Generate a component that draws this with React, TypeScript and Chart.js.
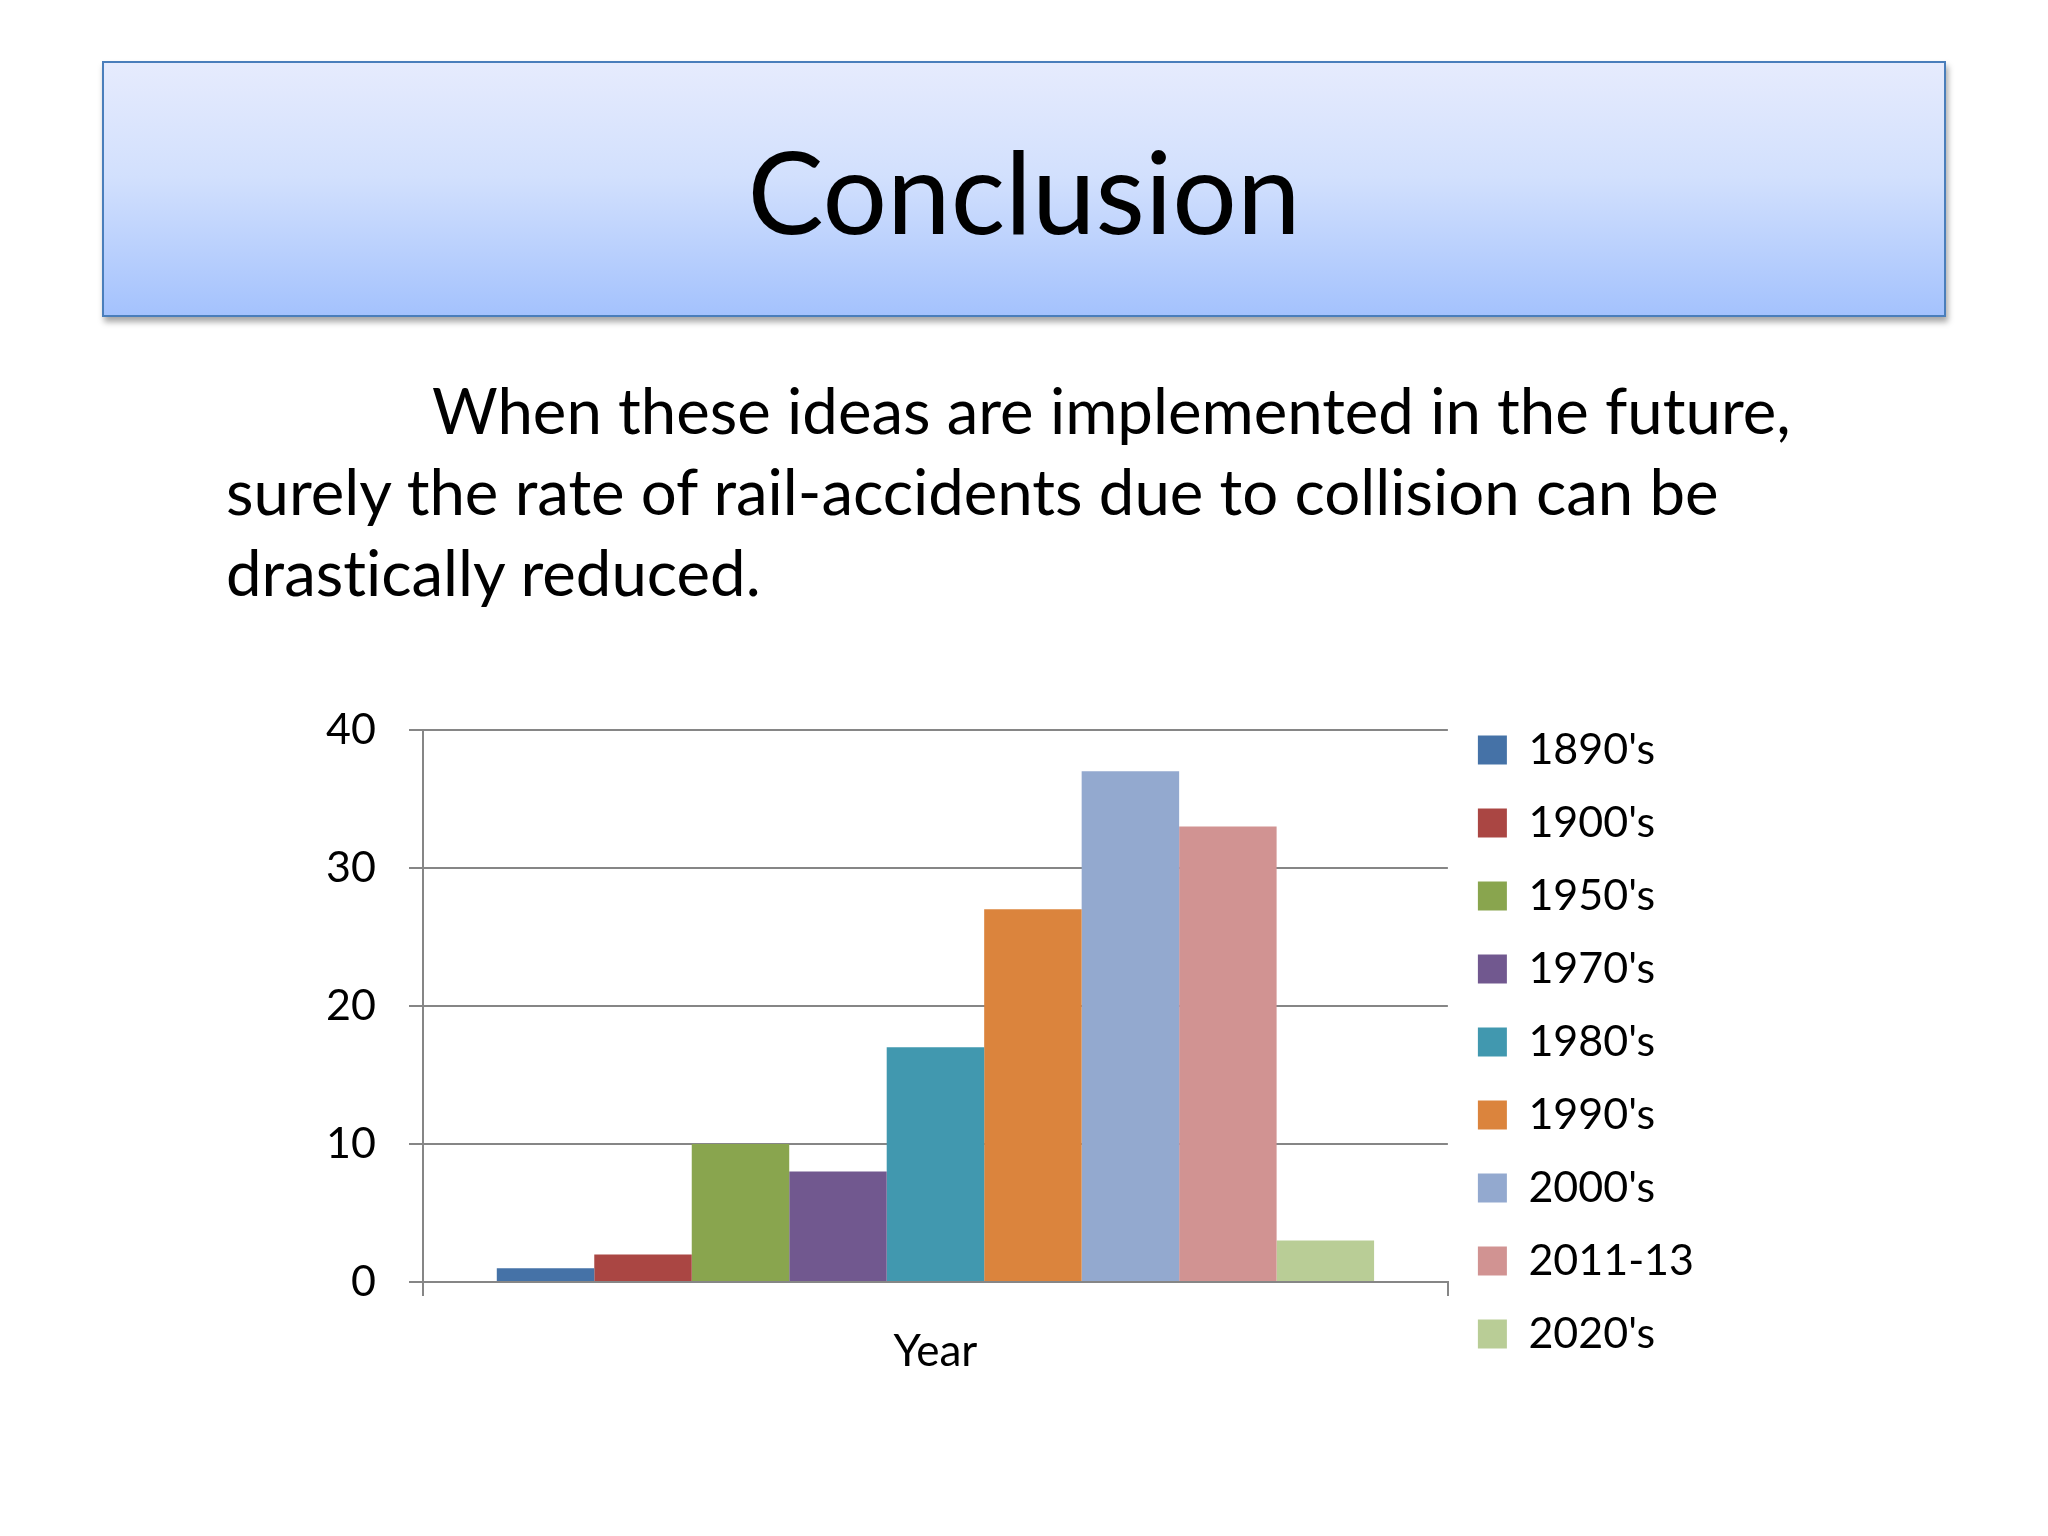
import React, { useEffect, useRef } from 'react';
import { Chart, registerables } from 'chart.js';

Chart.register(...registerables);

const categories: string[] = ['Year'];
const seriesLabels: string[] = ["1890's", "1900's", "1950's", "1970's", "1980's", "1990's", "2000's", "2011-13", "2020's"];
const seriesValues: number[] = [1, 2, 10, 8, 17, 27, 37, 33, 3];
const seriesColors: string[] = ['#4572A7', '#AA4643', '#89A54E', '#71588F', '#4198AF', '#DB843D', '#93A9CF', '#D19392', '#B9CD96'];
const yTickValues: number[] = [0, 10, 20, 30, 40];

const titleText = 'Conclusion';
const bodyLines: string[] = [
  'When these ideas are implemented in the future,',
  'surely the rate of rail-accidents due to collision can be',
  'drastically reduced.',
];

const FONT = 'Lato, "Noto Sans", sans-serif';
const GRID = '#868686';

const CANVAS_TOP = 671;
const CANVAS_BOTTOM = 1430;

function BarChart() {
  const ref = useRef<HTMLCanvasElement | null>(null);
  useEffect(() => {
    if (!ref.current) return;
    const chart = new Chart(ref.current, {
      type: 'bar',
      data: {
        labels: categories,
        datasets: seriesLabels.map((label, i) => ({
          label,
          data: [seriesValues[i]],
          backgroundColor: seriesColors[i],
          borderWidth: 0,
          categoryPercentage: 0.856,
          barPercentage: 1,
        })),
      },
      options: {
        responsive: false,
        maintainAspectRatio: false,
        animation: false,
        devicePixelRatio: 1,
        layout: { padding: { top: 0, left: 0, bottom: 0, right: 196 } },
        plugins: {
          tooltip: { enabled: false },
          title: { display: false },
          legend: {
            display: true,
            position: 'right',
            align: 'start',
            title: {
              display: true,
              text: '',
              font: { size: 1, lineHeight: 1 },
              padding: { top: 26.5, bottom: 0 },
            },
            labels: {
              color: '#000',
              font: { family: FONT, size: 43 },
              boxWidth: 29,
              boxHeight: 29,
              padding: 30,
            },
          },
        },
        scales: {
          x: {
            offset: true,
            afterFit: (s: any) => { s.height = CANVAS_BOTTOM - 1282; },
            grid: {
              display: true,
              drawOnChartArea: false,
              drawTicks: true,
              tickLength: 14,
              color: GRID,
              lineWidth: 2,
              offset: true,
            },
            border: { display: true, color: GRID, width: 2 },
            ticks: {
              color: '#000',
              font: { family: FONT, size: 44 },
              padding: 29,
            },
          },
          y: {
            min: 0,
            max: 40,
            afterFit: (s: any) => { s.width = 123; },
            afterBuildTicks: (s: any) => { s.ticks = yTickValues.map((v) => ({ value: v })); },
            grid: {
              display: true,
              drawOnChartArea: true,
              drawTicks: true,
              tickLength: 14,
              color: GRID,
              lineWidth: 2,
            },
            border: { display: true, color: GRID, width: 2 },
            ticks: {
              stepSize: 10,
              color: '#000',
              font: { family: FONT, size: 43 },
              padding: 33,
            },
          },
        },
      },
    });
    return () => chart.destroy();
  }, []);
  const h = CANVAS_BOTTOM - CANVAS_TOP;
  return (
    <canvas
      ref={ref}
      width={1600}
      height={h}
      style={{ position: 'absolute', left: 300, top: CANVAS_TOP, width: 1600, height: h }}
    />
  );
}

export default function App() {
  const titleSize = 114;
  const bodySize = 63.5;
  const bodyBaselines = [435, 516, 597];
  const bodyLefts = [432, 226, 226];
  return (
    <div style={{ position: 'absolute', left: 0, top: 0, width: 2048, height: 1536, background: '#fff', overflow: 'hidden' }}>
      <div
        style={{
          position: 'absolute', left: 102, top: 61, width: 1844, height: 256, boxSizing: 'border-box',
          border: '2px solid #4a7ebb',
          background: 'linear-gradient(to bottom, #e6ebfd 0%, #d2e0fd 45%, #a4c2fd 100%)',
          boxShadow: '2px 5px 6px rgba(0,0,0,0.35)',
        }}
      />
      <div
        style={{
          position: 'absolute', left: 102, width: 1844, top: 235 - 0.987 * titleSize, textAlign: 'center',
          fontFamily: FONT, fontSize: titleSize, lineHeight: 1.2, color: '#000', whiteSpace: 'nowrap',
          fontVariantLigatures: 'none',
        }}
      >
        {titleText}
      </div>
      {bodyLines.map((line, i) => (
        <div
          key={i}
          style={{
            position: 'absolute', left: bodyLefts[i], top: bodyBaselines[i] - 0.987 * bodySize,
            fontFamily: FONT, fontSize: bodySize, lineHeight: 1.2, color: '#000', whiteSpace: 'nowrap',
            fontVariantLigatures: 'none', fontFeatureSettings: '"liga" 0, "clig" 0',
          }}
        >
          {line}
        </div>
      ))}
      <BarChart />
    </div>
  );
}
